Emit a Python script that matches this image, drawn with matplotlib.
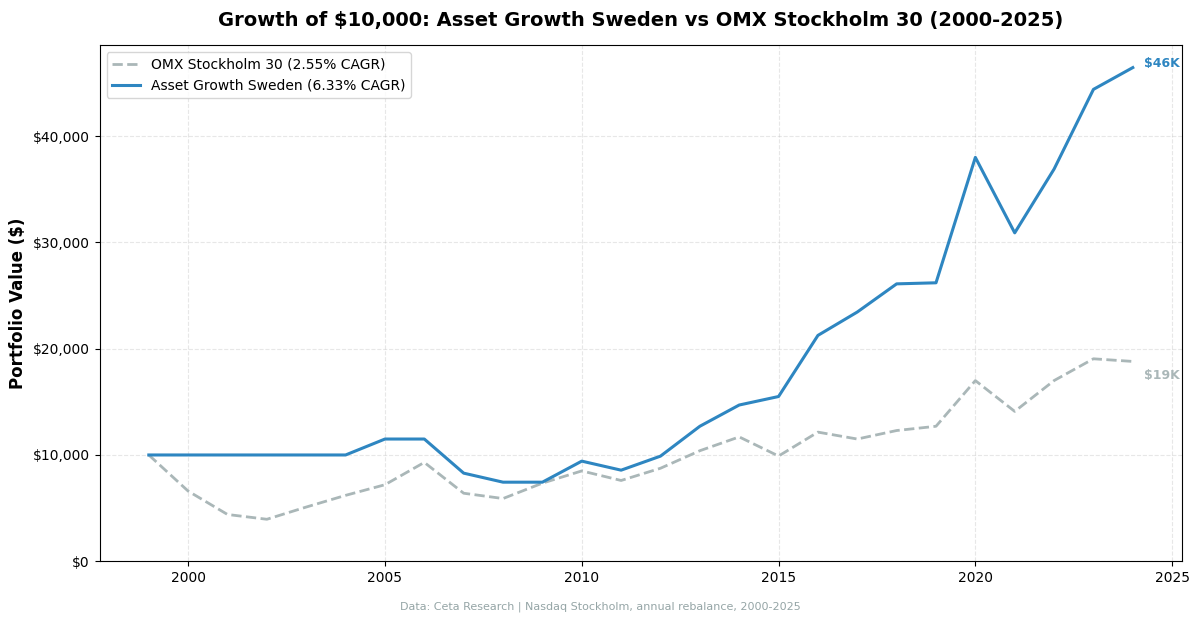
import matplotlib
matplotlib.use('Agg')
import matplotlib.pyplot as plt
from matplotlib.ticker import FuncFormatter

# Year-end portfolio values, starting from $10,000
years = list(range(1999, 2025))
strategy = [10000, 10000, 10000, 10000, 10000, 10000, 11500, 11500, 8290, 7440,
            7440, 9420, 8570, 9890, 12700, 14700, 15500, 21250, 23450, 26100,
            26200, 38000, 30900, 36900, 44400, 46450]
benchmark = [10000, 6600, 4400, 3950, 5100, 6200, 7200, 9300, 6400, 5900,
             7350, 8500, 7600, 8750, 10400, 11700, 9900, 12150, 11500, 12300,
             12700, 17000, 14100, 17000, 19050, 18800]

strategy_label = 'Asset Growth Sweden (6.33% CAGR)'
benchmark_label = 'OMX Stockholm 30 (2.55% CAGR)'

blue = '#2E86C1'
grey = '#AAB7B8'

fig, ax = plt.subplots(figsize=(12, 6.25), dpi=100)
fig.subplots_adjust(left=0.083, right=0.985, top=0.928, bottom=0.102)

ax.plot(years, benchmark, color=grey, linestyle='--', linewidth=2, label=benchmark_label)
ax.plot(years, strategy, color=blue, linewidth=2.2, label=strategy_label)

# End labels
ax.annotate(f'${strategy[-1] / 1000:.0f}K', (years[-1], strategy[-1]),
            xytext=(8, 3), textcoords='offset points', va='center',
            color=blue, fontsize=9, fontweight='bold')
ax.annotate(f'${benchmark[-1] / 1000:.0f}K', (years[-1], benchmark[-1]),
            xytext=(8, -10), textcoords='offset points', va='center',
            color=grey, fontsize=9, fontweight='bold')

ax.set_ylim(bottom=0)
ax.yaxis.set_major_formatter(FuncFormatter(lambda v, p: f'${v:,.0f}'))
ax.set_ylabel('Portfolio Value ($)', fontsize=12, fontweight='bold')
ax.set_title('Growth of $10,000: Asset Growth Sweden vs OMX Stockholm 30 (2000-2025)',
             fontsize=14, fontweight='bold', pad=14)
ax.grid(True, linestyle='--', alpha=0.3)
ax.legend(loc='upper left', fontsize=10)

fig.text(0.5, 0.025, 'Data: Ceta Research | Nasdaq Stockholm, annual rebalance, 2000-2025',
         ha='center', fontsize=8, color='#95A5A6')

fig.savefig('out.png', dpi=100)
